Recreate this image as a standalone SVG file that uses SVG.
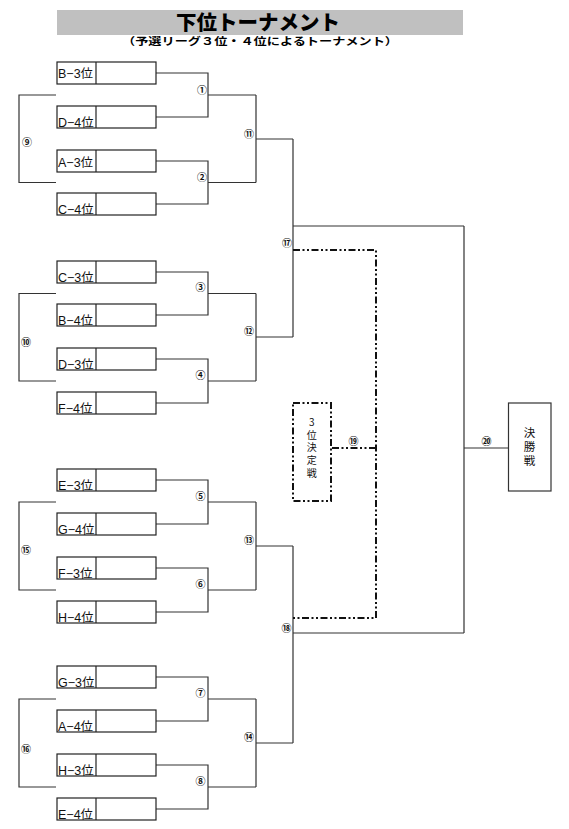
<svg xmlns="http://www.w3.org/2000/svg" width="569" height="829" viewBox="0 0 569 829">
<defs>
<style>
.bg{fill:#ffffff}
.box{fill:#ffffff;stroke:#222;stroke-width:1.2}
.div{stroke:#222;stroke-width:1.2}
.tt{font-family:"Liberation Sans","Noto Sans CJK JP",sans-serif;font-size:12.5px;fill:#111}
.ln{fill:none;stroke:#333;stroke-width:1.2}
.dd{fill:none;stroke:#111;stroke-width:2;stroke-dasharray:7 2.5 2 2.5 2 2.5}
.lb{font-family:"Noto Sans CJK JP","DejaVu Sans",sans-serif;font-size:10px;font-weight:bold;fill:#111;text-anchor:middle}
.vt{font-family:"Noto Sans CJK JP","Liberation Sans",sans-serif;fill:#111;writing-mode:vertical-rl;text-orientation:upright}
</style>
</defs>
<rect class="bg" x="0" y="0" width="569" height="829"/>
<g id="title">
<rect x="57" y="10" width="406" height="25" fill="#c0c0c0"/>
<text x="258" y="30" font-family="Noto Sans CJK JP,sans-serif" font-size="20.5" font-weight="900" text-anchor="middle" fill="#000">下位トーナメント</text>
<text x="260" y="45" font-family="Noto Sans CJK JP,sans-serif" font-size="10.5" font-weight="bold" text-anchor="middle" textLength="276" lengthAdjust="spacingAndGlyphs" fill="#000">（予選リーグ３位・４位によるトーナメント）</text>
</g>
<g id="connectors">
<path class="ln" d="M156 73H208V117H156M208 95H256"/>
<path class="ln" d="M156 161H208V204H156M208 182.5H256"/>
<path class="ln" d="M256 95V182.5M256 139H293"/>
<path class="ln" d="M156 272H208V315H156M208 293.5H256"/>
<path class="ln" d="M156 359H208V403H156M208 381H256"/>
<path class="ln" d="M256 293.5V381M256 337H293"/>
<path class="ln" d="M293 139V337M293 226H464"/>
<path class="ln" d="M156 480H208V524H156M208 502H256"/>
<path class="ln" d="M156 568H208V612H156M208 590H256"/>
<path class="ln" d="M256 502V590M256 546H293"/>
<path class="ln" d="M156 677H208V721H156M208 699H256"/>
<path class="ln" d="M156 765H208V809H156M208 787H256"/>
<path class="ln" d="M256 699V787M256 743H293"/>
<path class="ln" d="M293 546V743M293 633H464"/>
<path class="ln" d="M464 226V633M464 448H508.5"/>
<path class="ln" d="M56 95H19V182.5H56"/>
<path class="ln" d="M56 293.5H19V381H56"/>
<path class="ln" d="M56 502H19V590H56"/>
<path class="ln" d="M56 699H19V787H56"/>
<path class="dd" d="M293 250H376V618H293"/>
<path class="dd" d="M376 448H331"/>
</g>
<g id="match-labels">
<text class="lb" x="202" y="93.5">①</text>
<text class="lb" x="202" y="181.2">②</text>
<text class="lb" x="200.5" y="290.8">③</text>
<text class="lb" x="200.5" y="379.2">④</text>
<text class="lb" x="200.5" y="500.2">⑤</text>
<text class="lb" x="200.5" y="587.8">⑥</text>
<text class="lb" x="200.5" y="696.8">⑦</text>
<text class="lb" x="200.5" y="784.5">⑧</text>
<text class="lb" x="27" y="146.2">⑨</text>
<text class="lb" x="26" y="346.2">⑩</text>
<text class="lb" x="249" y="137.5">⑪</text>
<text class="lb" x="249" y="335.2">⑫</text>
<text class="lb" x="249" y="543.5">⑬</text>
<text class="lb" x="249" y="741.2">⑭</text>
<text class="lb" x="26" y="554.2">⑮</text>
<text class="lb" x="26" y="752.5">⑯</text>
<text class="lb" x="287" y="246.8">⑰</text>
<text class="lb" x="286.5" y="631.8">⑱</text>
<text class="lb" x="353.5" y="445.2">⑲</text>
<text class="lb" x="486.5" y="445.2">⑳</text>
</g>
<g id="team-B3"><rect class="box" x="57" y="62" width="99" height="22"/><line class="div" x1="96" y1="62" x2="96" y2="84"/><text class="tt" x="58" y="77.5">B−3位</text></g>
<g id="team-D4"><rect class="box" x="57" y="106" width="99" height="22"/><line class="div" x1="96" y1="106" x2="96" y2="128"/><text class="tt" x="58" y="126.5">D−4位</text></g>
<g id="team-A3"><rect class="box" x="57" y="150" width="99" height="22"/><line class="div" x1="96" y1="150" x2="96" y2="172"/><text class="tt" x="58" y="166.5">A−3位</text></g>
<g id="team-C4"><rect class="box" x="57" y="193" width="99" height="22"/><line class="div" x1="96" y1="193" x2="96" y2="215"/><text class="tt" x="58" y="213.5">C−4位</text></g>
<g id="team-C3"><rect class="box" x="57" y="261" width="99" height="22"/><line class="div" x1="96" y1="261" x2="96" y2="283"/><text class="tt" x="58" y="281.5">C−3位</text></g>
<g id="team-B4"><rect class="box" x="57" y="304" width="99" height="22"/><line class="div" x1="96" y1="304" x2="96" y2="326"/><text class="tt" x="58" y="324.5">B−4位</text></g>
<g id="team-D3"><rect class="box" x="57" y="348" width="99" height="22"/><line class="div" x1="96" y1="348" x2="96" y2="370"/><text class="tt" x="58" y="368.5">D−3位</text></g>
<g id="team-F4"><rect class="box" x="57" y="392" width="99" height="22"/><line class="div" x1="96" y1="392" x2="96" y2="414"/><text class="tt" x="58" y="412.5">F−4位</text></g>
<g id="team-E3"><rect class="box" x="57" y="469" width="99" height="22"/><line class="div" x1="96" y1="469" x2="96" y2="491"/><text class="tt" x="58" y="489.5">E−3位</text></g>
<g id="team-G4"><rect class="box" x="57" y="513" width="99" height="22"/><line class="div" x1="96" y1="513" x2="96" y2="535"/><text class="tt" x="58" y="533.5">G−4位</text></g>
<g id="team-F3"><rect class="box" x="57" y="557" width="99" height="22"/><line class="div" x1="96" y1="557" x2="96" y2="579"/><text class="tt" x="58" y="577.5">F−3位</text></g>
<g id="team-H4"><rect class="box" x="57" y="601" width="99" height="22"/><line class="div" x1="96" y1="601" x2="96" y2="623"/><text class="tt" x="58" y="621.5">H−4位</text></g>
<g id="team-G3"><rect class="box" x="57" y="666" width="99" height="22"/><line class="div" x1="96" y1="666" x2="96" y2="688"/><text class="tt" x="58" y="686.5">G−3位</text></g>
<g id="team-A4"><rect class="box" x="57" y="710" width="99" height="22"/><line class="div" x1="96" y1="710" x2="96" y2="732"/><text class="tt" x="58" y="730.5">A−4位</text></g>
<g id="team-H3"><rect class="box" x="57" y="754" width="99" height="22"/><line class="div" x1="96" y1="754" x2="96" y2="776"/><text class="tt" x="58" y="774.5">H−3位</text></g>
<g id="team-E4"><rect class="box" x="57" y="798" width="99" height="22"/><line class="div" x1="96" y1="798" x2="96" y2="820"/><text class="tt" x="58" y="818.5">E−4位</text></g>
<g id="third-place">
<rect class="dd" x="293" y="403" width="38" height="98" fill="#fff"/>
<text class="vt" x="311.7" y="417.5" font-size="10" letter-spacing="2.6">3位決定戦</text>
</g>
<g id="final">
<rect x="508.5" y="403" width="42.5" height="88" fill="#fff" stroke="#333" stroke-width="1.2"/>
<text class="vt" x="529.5" y="427.3" font-size="11.5" letter-spacing="2.3">決勝戦</text>
</g>
</svg>
